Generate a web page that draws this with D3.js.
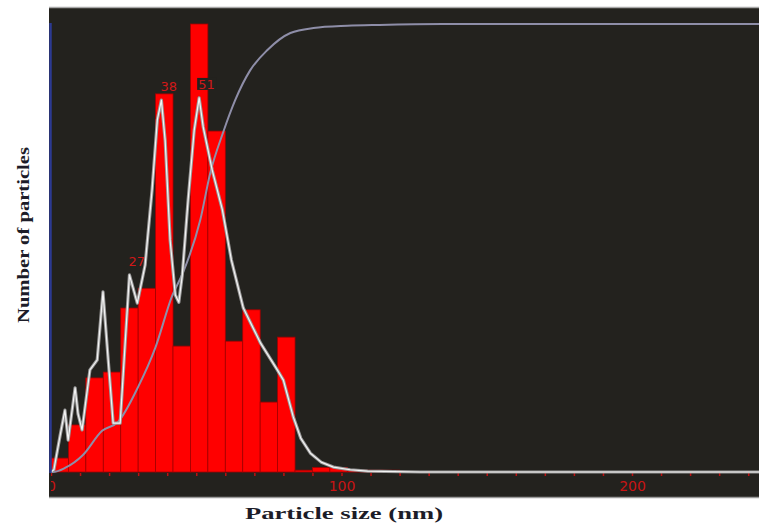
<!DOCTYPE html>
<html>
<head>
<meta charset="utf-8">
<script src="https://cdn.jsdelivr.net/npm/d3@7"></script>
<style>
  body { margin: 0; background: #fff; }
  svg { display: block; }
</style>
</head>
<body>
<div id="chart"></div>
<script>
// histogram bins (nm), width 6
var binStarts = [0, 6, 12, 18, 24, 30, 36, 42, 48, 54, 60, 66, 72, 78, 84, 90, 96, 102, 108, 114];
var binCounts = [3.1, 10.5, 21, 22.3, 36.6, 41, 84.4, 28.1, 100, 76.1, 29.2, 36.2, 15.6, 30.1, 0.4, 1, 1, 0.4, 0.4, 0.4];
var binWidth = 6;

// distribution curve (white)
var densSize  = [0, 1, 3.1, 4.8, 5.9, 8.3, 9.3, 10.7, 13.4, 15.9, 17.9, 19.7, 21.4, 23.8, 27, 29.7, 32.4, 34.8, 36.6, 38, 39.3, 41, 42.8, 44, 45.2, 47.2, 49.3, 51, 52.4, 55.5, 59, 62.1, 66.2, 72.2, 77.9, 80, 83.4, 86, 89.3, 93, 97.2, 103, 109, 127, 250];
var densValue = [0, 0.5, 8, 13.8, 7.1, 18.8, 13, 9.4, 22.8, 25, 40.2, 25, 10.9, 10.9, 44, 37.7, 46.2, 63, 78.6, 83, 74, 51.8, 39.5, 37.9, 44, 60.7, 76.3, 83.5, 77, 67.4, 58.5, 47.3, 36.6, 28.7, 22.8, 20.5, 12.3, 7.5, 4.2, 2.2, 1.1, 0.5, 0.2, 0, 0];

// cumulative curve (%)
var cumSize  = [0, 0.7, 4.8, 11, 17.6, 23.1, 30, 35.9, 41.7, 45.5, 51.4, 54.8, 59.3, 63.4, 68.6, 74.5, 82.4, 90.3, 102, 113, 135, 250];
var cumValue = [0, 0, 0.9, 3.8, 9.2, 11.2, 19, 27.7, 39.3, 44.6, 56.3, 66.7, 75.9, 83, 89.7, 94.2, 98, 99.1, 99.6, 99.8, 100, 100];

var peakSizes = [27, 38, 51];
var peakValues = [44, 83, 83.5];
var majorTicks = [0, 100, 200];

var width = 759, height = 529;

var svg = d3.select("#chart").append("svg")
    .attr("width", width)
    .attr("height", height);

var x = d3.scaleLinear().domain([0, 200]).range([51, 632]);
var y = d3.scaleLinear().domain([0, 100]).range([472, 24]);

// plot panel
svg.append("rect")
    .attr("x", 49).attr("y", 8)
    .attr("width", width - 49).attr("height", 489)
    .attr("fill", "#23221e");
svg.append("line")
    .attr("x1", 49).attr("x2", width).attr("y1", 7.5).attr("y2", 7.5)
    .attr("stroke", "#a8a8a8").attr("stroke-width", 1.5);
svg.append("line")
    .attr("x1", 49).attr("x2", width).attr("y1", 497.5).attr("y2", 497.5)
    .attr("stroke", "#9a9a9a").attr("stroke-width", 1.5);

svg.append("clipPath").attr("id", "panel")
  .append("rect").attr("x", 51).attr("y", 8).attr("width", width - 51).attr("height", 489);

var g = svg.append("g").attr("clip-path", "url(#panel)");

// bars
g.selectAll("rect.bar")
    .data(binStarts)
    .enter().append("rect")
    .attr("class", "bar")
    .attr("x", function(d) { return x(d); })
    .attr("width", function(d) { return x(d + binWidth) - x(d); })
    .attr("y", function(d, i) { return y(binCounts[i]); })
    .attr("height", function(d, i) { return y(0) - y(binCounts[i]); })
    .attr("fill", "#ff0000")
    .attr("stroke", "#a40000")
    .attr("stroke-width", 0.8);

// x axis
var xAxis = d3.axisBottom(x)
    .tickValues(d3.range(0, 250, 10))
    .tickSize(3)
    .tickPadding(5)
    .tickFormat(function(d) { return majorTicks.indexOf(d) >= 0 ? d : ""; });

var ax = g.append("g")
    .attr("transform", "translate(0,473)")
    .call(xAxis);
ax.select(".domain").remove();
ax.selectAll("line").attr("stroke", "#c01010").attr("stroke-width", 1.5);
ax.selectAll("text")
    .attr("fill", "#c81414")
    .style("font-family", "DejaVu Sans")
    .style("font-size", "14px");

// cumulative line
var cumLine = d3.line()
    .x(function(d) { return x(d[0]); })
    .y(function(d) { return y(d[1]); })
    .curve(d3.curveMonotoneX);

g.append("path")
    .datum(d3.zip(cumSize, cumValue))
    .attr("d", cumLine)
    .attr("fill", "none")
    .attr("stroke", "#8e8ea8")
    .attr("stroke-width", 2);

// distribution line: grey halo + white core
var densLine = d3.line()
    .x(function(d) { return x(d[0]); })
    .y(function(d) { return y(d[1]); });

var dens = d3.zip(densSize, densValue);
g.append("path")
    .datum(dens)
    .attr("d", densLine)
    .attr("fill", "none")
    .attr("stroke", "#9a9a9a")
    .attr("stroke-width", 3.2)
    .attr("stroke-linejoin", "round");
g.append("path")
    .datum(dens)
    .attr("d", densLine)
    .attr("fill", "none")
    .attr("stroke", "#f4f4f4")
    .attr("stroke-width", 1.2)
    .attr("stroke-linejoin", "round");

// peak labels, dark box when the label sits on a bar
var peaks = g.selectAll("g.peak")
    .data(peakSizes)
    .enter().append("g")
    .attr("class", "peak")
    .attr("transform", function(d, i) { return "translate(" + (x(d) - 1) + "," + (y(peakValues[i]) - 9) + ")"; });
peaks.filter(function(d, i) {
        var bi = Math.floor(d / binWidth);
        return y(binCounts[bi]) < y(peakValues[i]) - 20;
    })
  .append("rect")
    .attr("x", -1).attr("y", -11)
    .attr("width", 19).attr("height", 12)
    .attr("fill", "#23221e");
peaks.append("text")
    .attr("fill", "#d01818")
    .style("font-family", "DejaVu Sans")
    .style("font-size", "13px")
    .text(function(d) { return d; });

// left axis line
svg.append("line")
    .attr("x1", 50.5).attr("x2", 50.5)
    .attr("y1", y(100) - 1).attr("y2", y(0) + 1)
    .attr("stroke", "#2c3a92")
    .attr("stroke-width", 2.5);

// titles
svg.append("text")
    .attr("x", 344).attr("y", 519)
    .attr("text-anchor", "middle")
    .attr("textLength", 198)
    .attr("lengthAdjust", "spacingAndGlyphs")
    .style("font-family", "Liberation Serif")
    .style("font-weight", "bold")
    .style("font-size", "17px")
    .attr("fill", "#1c1c28")
    .text("Particle size (nm)");

svg.append("text")
    .attr("transform", "translate(29,235) rotate(-90)")
    .attr("text-anchor", "middle")
    .attr("textLength", 176)
    .attr("lengthAdjust", "spacingAndGlyphs")
    .style("font-family", "Liberation Serif")
    .style("font-weight", "bold")
    .style("font-size", "17px")
    .attr("fill", "#1c1c28")
    .text("Number of particles");
</script>
</body>
</html>
